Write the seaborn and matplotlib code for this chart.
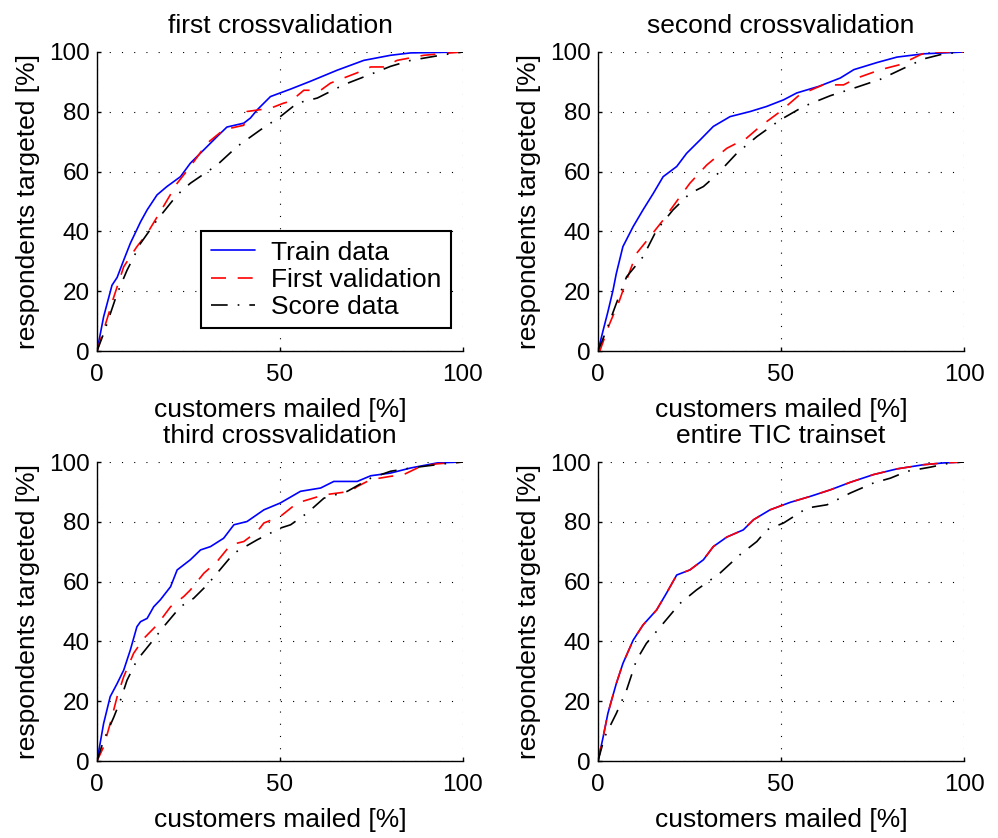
import matplotlib
matplotlib.use("Agg")
import matplotlib.pyplot as plt
import seaborn as sns
import pandas as pd

# ---------------- data ----------------
titles = ["first crossvalidation", "second crossvalidation",
          "third crossvalidation", "entire TIC trainset"]
series_names = ["Train data", "First validation", "Score data"]
xlabel_text = "customers mailed [%]"
ylabel_text = "respondents targeted [%]"
x_ticks = [0, 50, 100]
y_ticks = [0, 20, 40, 60, 80, 100]

# panel 1 : first crossvalidation
p1_train_x = [0, 1.8, 4.1, 5.5, 7.3, 9.1, 11.9, 13.7, 16.4, 19.1, 22.8, 25.5, 29.2, 32.8, 35.5, 40.1, 41.9, 43.8, 47.4, 52.9, 58.3, 65.6, 72.9, 80.2, 85.7, 100]
p1_train_y = [0, 11.4, 22, 24.6, 30.4, 36, 43.2, 47.2, 52.2, 55, 58.3, 62.8, 67.3, 71.7, 74.9, 76.2, 77.9, 80.7, 85.1, 87.6, 90.2, 93.9, 97.2, 98.9, 99.7, 100]
p1_val_x = [0, 1.8, 4.6, 7.3, 10.9, 13.7, 17.3, 21.9, 25.5, 30.1, 34.6, 40.1, 41, 47.4, 51, 52.9, 56.5, 61.1, 63.8, 71, 74.8, 78.4, 82, 89.3, 96.6, 100]
p1_val_y = [0, 6.9, 18.1, 28.2, 34.9, 39.3, 46.6, 56.1, 61.7, 69.5, 74, 75.5, 80.1, 81.2, 82.9, 83.5, 87.2, 87.2, 89.6, 93, 95, 95, 97.2, 98.9, 99.7, 100]
p1_score_x = [0, 1.8, 5.5, 8.2, 11.9, 16.4, 21.9, 25.5, 32.8, 38.3, 44.7, 50.1, 54.7, 60.2, 67.5, 75.7, 80.2, 85.7, 94.8, 100]
p1_score_y = [0, 5.8, 19.2, 27, 36, 43.8, 52.2, 56.1, 62.2, 68.4, 74, 78.4, 82.9, 84.6, 89.1, 93, 95.2, 97.2, 99.1, 100]

# panel 2 : second crossvalidation
p2_train_x = [0, 1.4, 2.7, 4.1, 5.0, 6.8, 9.6, 12.3, 15.1, 17.8, 21.5, 24.2, 27.9, 31.5, 36.1, 41.6, 46.1, 50.7, 54.3, 60.3, 66.2, 69.9, 76.3, 81.7, 89, 100]
p2_train_y = [0, 6.9, 13.1, 20.3, 25.9, 34.9, 41.6, 47.2, 52.7, 58.3, 61.7, 66.1, 70.6, 75.1, 78.4, 80.1, 81.8, 84, 86.3, 88.5, 91.3, 94.1, 96.5, 98.3, 99.4, 100]
p2_val_x = [0, 0.5, 3.2, 5.9, 7.8, 10.5, 14.2, 17.8, 22.4, 25.1, 29.7, 35.2, 40.6, 44.3, 49.8, 55.1, 61.5, 67.1, 70.8, 77.2, 82.6, 88.1, 90, 100]
p2_val_y = [0, 0, 9.2, 17, 23.7, 32.6, 38.2, 43.8, 51.6, 56.1, 62.2, 67.8, 71.2, 75.1, 80.1, 85.7, 89, 89, 91.3, 94.1, 95.8, 99.1, 100, 100]
p2_score_x = [0, 2.3, 5, 7.8, 12.3, 16, 20.5, 25.1, 28.8, 32.4, 37.9, 43.4, 49.8, 56.2, 63.5, 69.9, 77.2, 83.6, 89, 94.5, 100]
p2_score_y = [0, 6.9, 15.9, 24.8, 31.5, 40.4, 47.2, 52.7, 55, 58.9, 66.1, 71.7, 77.3, 81.8, 85.4, 87.9, 90.9, 94.6, 97.7, 99.4, 100]

# panel 3 : third crossvalidation
p3_train_x = [0, 1.8, 3.6, 5.5, 7.3, 9.1, 10.9, 11.9, 13.7, 15.5, 17.3, 20.1, 21.9, 25.5, 28.3, 31, 34.6, 37.4, 41, 45.6, 50.1, 55.6, 61.1, 64.7, 71.1, 74.8, 80.2, 85.7, 93, 100]
p3_train_y = [0, 12.5, 21.5, 25.9, 30.4, 37.1, 44.9, 46.6, 47.7, 51.6, 53.9, 58.3, 63.9, 67.3, 70.6, 71.7, 74.5, 79, 80.1, 84, 86.3, 90.2, 91.3, 93.5, 93.5, 95.4, 96.3, 98, 99.7, 100]
p3_val_x = [0, 1.8, 3.6, 5.5, 7.3, 10, 12.8, 16.4, 20.1, 23.7, 25.5, 29.2, 32.8, 36.5, 40.1, 43.8, 45.6, 50.1, 54.7, 62, 69.3, 71.1, 74.8, 80.2, 83.8, 88.4, 93, 100]
p3_val_y = [0, 4.7, 12.5, 21.5, 28.2, 36, 41, 45.5, 51.6, 55, 57.2, 62.8, 66.7, 72.3, 73.4, 76.8, 79.6, 81.8, 86.3, 89, 90.2, 91.8, 94.1, 95.2, 95.8, 98.5, 99.4, 100]
p3_score_x = [0, 1.8, 4.6, 6.4, 8.2, 10.9, 14.6, 18.2, 22.8, 26.4, 30.1, 32.8, 37.4, 43.8, 50.1, 52.9, 57.4, 62, 68.4, 74.8, 80.2, 85.7, 94.8, 100]
p3_score_y = [0, 6.9, 14.7, 20.3, 27, 33.7, 39.3, 44.9, 51.6, 54.4, 58.9, 62.8, 69.5, 74, 77.9, 79, 82.9, 87.9, 90.2, 94.6, 96.9, 98, 99.4, 100]

# panel 4 : entire TIC trainset
p4_train_x = [0, 1.4, 2.7, 3.7, 5, 6.8, 9.6, 12.3, 16, 18.7, 21.5, 25.1, 28.8, 31.5, 35.2, 39.7, 42.5, 47, 52.5, 58, 63.5, 68.9, 75.3, 81.7, 89, 94.5, 100]
p4_train_y = [0, 8, 15.9, 20.3, 25.9, 32.6, 40.4, 45.5, 50.5, 56.1, 62.2, 63.9, 67.3, 71.7, 74.9, 77.3, 80.7, 84, 86.5, 88.5, 90.7, 93.2, 95.8, 97.7, 99.1, 99.7, 100]
p4_val_x = [0, 1.4, 2.7, 3.7, 5, 6.8, 9.6, 12.3, 16, 18.7, 21.5, 25.1, 28.8, 31.5, 35.2, 39.7, 42.5, 47, 52.5, 58, 63.5, 68.9, 75.3, 81.7, 89, 94.5, 100]
p4_val_y = [0, 8, 15.9, 20.3, 25.9, 32.6, 40.4, 45.5, 50.5, 56.1, 62.2, 63.9, 67.3, 71.7, 74.9, 77.3, 80.7, 84, 86.5, 88.5, 90.7, 93.2, 95.8, 97.7, 99.1, 99.7, 100]
p4_score_x = [0, 1.8, 5, 7.8, 10.5, 13.2, 17.8, 22.4, 26.9, 33.3, 38.8, 43.4, 46.1, 50.7, 57.1, 62.6, 68.9, 75.3, 79.9, 84.5, 90.9, 96.3, 100]
p4_score_y = [0, 8, 15.9, 23.7, 33.7, 39.3, 46, 52.7, 57.2, 62.8, 69, 73.4, 77.3, 79.6, 84.6, 85.7, 89.6, 93, 94.6, 96.9, 98.3, 99.7, 100]

panels = [
    [(p1_train_x, p1_train_y), (p1_val_x, p1_val_y), (p1_score_x, p1_score_y)],
    [(p2_train_x, p2_train_y), (p2_val_x, p2_val_y), (p2_score_x, p2_score_y)],
    [(p3_train_x, p3_train_y), (p3_val_x, p3_val_y), (p3_score_x, p3_score_y)],
    [(p4_train_x, p4_train_y), (p4_val_x, p4_val_y), (p4_score_x, p4_score_y)],
]

# ---------------- styling ----------------
sns.set_style("white")
plt.rcParams["font.family"] = ["Liberation Sans", "DejaVu Sans"]
plt.rcParams["text.color"] = "black"
plt.rcParams["axes.labelcolor"] = "black"
plt.rcParams["xtick.color"] = "black"
plt.rcParams["ytick.color"] = "black"

colors = ["#0000ff", "#ff0000", "#000000"]
styles = ["-", (0, (9, 7)), (0, (10, 6, 1, 6))]
LW = 1.2

fig = plt.figure(figsize=(9.98, 8.38), dpi=100)
W, H = 998, 838
boxes = [(97, 52, 463, 351), (598, 52, 964, 351),
         (97, 462, 463, 761), (598, 462, 964, 761)]

for i, (x0, y0, x1, y1) in enumerate(boxes):
    ax = fig.add_axes([x0 / W, 1 - y1 / H, (x1 - x0) / W, (y1 - y0) / H])
    for j, (xs, ys) in enumerate(panels[i]):
        df = pd.DataFrame({"x": xs, "y": ys})
        sns.lineplot(data=df, x="x", y="y", ax=ax, color=colors[j],
                     linestyle=styles[j], linewidth=LW, sort=False,
                     estimator=None, label=series_names[j], legend=False)
    ax.set_xlim(0, 100)
    ax.set_ylim(0, 100)
    ax.set_xticks(x_ticks)
    ax.set_yticks(y_ticks)
    ax.grid(True, linestyle=(0, (1, 10)), color="black", linewidth=0.8)
    ax.set_axisbelow(True)
    for s in ["top", "right"]:
        ax.spines[s].set_visible(False)
    for s in ["left", "bottom"]:
        ax.spines[s].set_color("black")
        ax.spines[s].set_linewidth(1.0)
    ax.tick_params(direction="in", length=3, width=1, labelsize=17.5,
                   left=True, bottom=True)
    ax.tick_params(axis="x", pad=9)
    ax.tick_params(axis="y", pad=5)
    ax.set_title(titles[i], fontsize=19, pad=14)
    ax.set_xlabel(xlabel_text, fontsize=19, labelpad=9)
    ax.set_ylabel(ylabel_text, fontsize=19, labelpad=7)
    if i == 0:
        handles, labels = ax.get_legend_handles_labels()
        leg = ax.legend(handles, labels, loc="lower right",
                        bbox_to_anchor=(0.967, 0.076), fontsize=19,
                        frameon=True, fancybox=False, shadow=False,
                        framealpha=1, edgecolor="black", borderpad=0.35,
                        handlelength=1.7, handletextpad=0.6,
                        labelspacing=0.12, borderaxespad=0)
        leg.get_frame().set_linewidth(1.5)

fig.savefig("out.png", dpi=100, facecolor="white")
